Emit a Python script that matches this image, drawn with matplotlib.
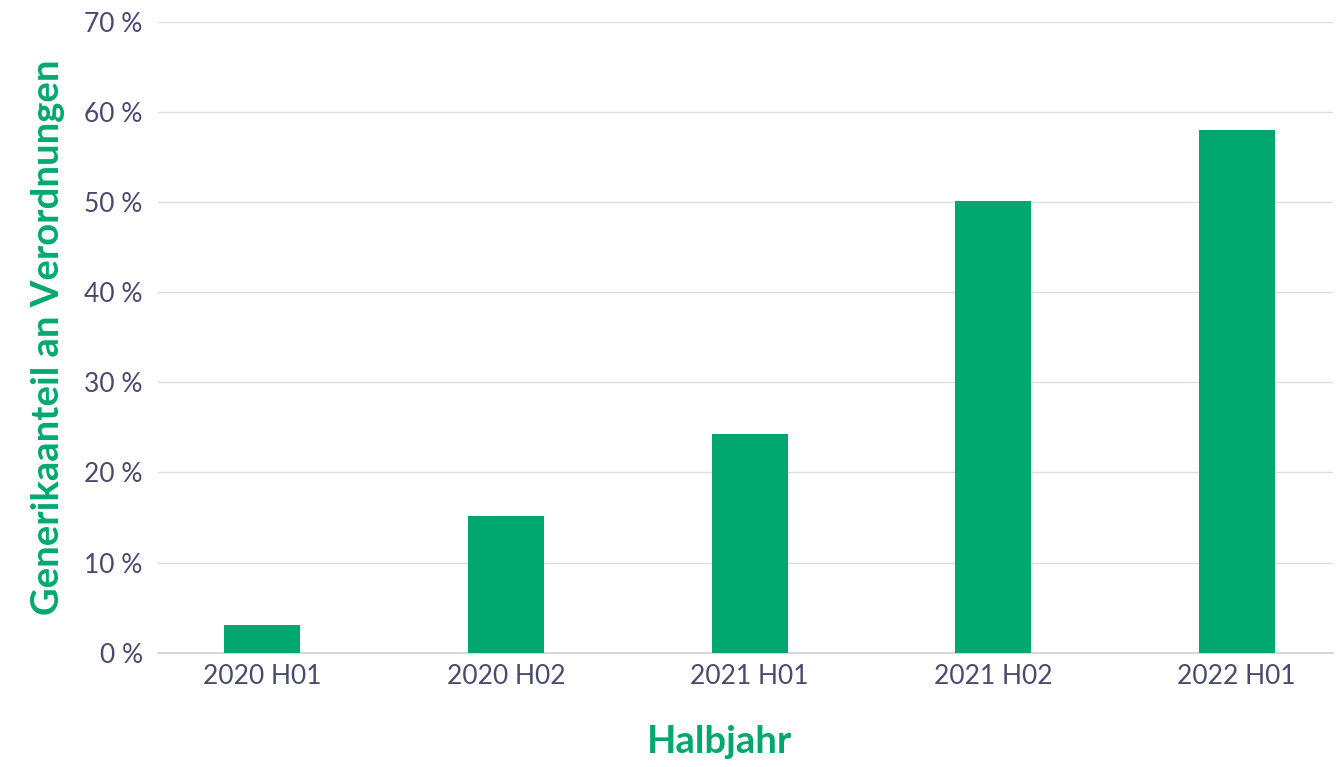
import matplotlib
matplotlib.use("Agg")
import matplotlib.pyplot as plt

categories = ["2020 H01", "2020 H02", "2021 H01", "2021 H02", "2022 H01"]
values = [3.1, 15.2, 24.3, 50.1, 58.0]
yticks = [0, 10, 20, 30, 40, 50, 60, 70]
ytick_labels = [f"{v} %" for v in yticks]

GREEN = "#00A86F"
TEXT = "#4A4A6E"
GRID = "#DEDEDE"

plt.rcParams['font.family'] = ['Lato', 'DejaVu Sans']

fig = plt.figure(figsize=(13.43, 7.67), dpi=100)
ax = fig.add_axes([158/1343, 114.3/767, (1333-158)/1343, (652.7-21.6)/767])

x = list(range(len(categories)))
ax.bar(x, values, width=0.312, color=GREEN, zorder=3)

ax.set_xlim(-0.429, 4.395)
ax.set_ylim(0, 70)
ax.set_yticks(yticks)
ax.set_yticklabels(ytick_labels)
ax.set_xticks(x)
ax.set_xticklabels(categories)
ax.grid(axis='y', color=GRID, linewidth=1.0, zorder=0)
ax.set_axisbelow(True)
for s in ['top', 'right', 'left']:
    ax.spines[s].set_visible(False)
ax.spines['bottom'].set_color("#CFCFD4")
ax.spines['bottom'].set_linewidth(1.2)
ax.tick_params(axis='both', length=0, labelsize=19, colors=TEXT)
ax.tick_params(axis='y', pad=11)
ax.tick_params(axis='x', pad=8)

ax.set_xlabel("Halbjahr", fontsize=27.5, fontweight='bold', color=GREEN)
ax.xaxis.set_label_coords(0.478, -0.115)
ax.xaxis.label.set_va('top')
ax.set_ylabel("Generikaanteil an Verordnungen", fontsize=27.5, fontweight='bold', color=GREEN, labelpad=14)

fig.savefig("out.png", dpi=100)
